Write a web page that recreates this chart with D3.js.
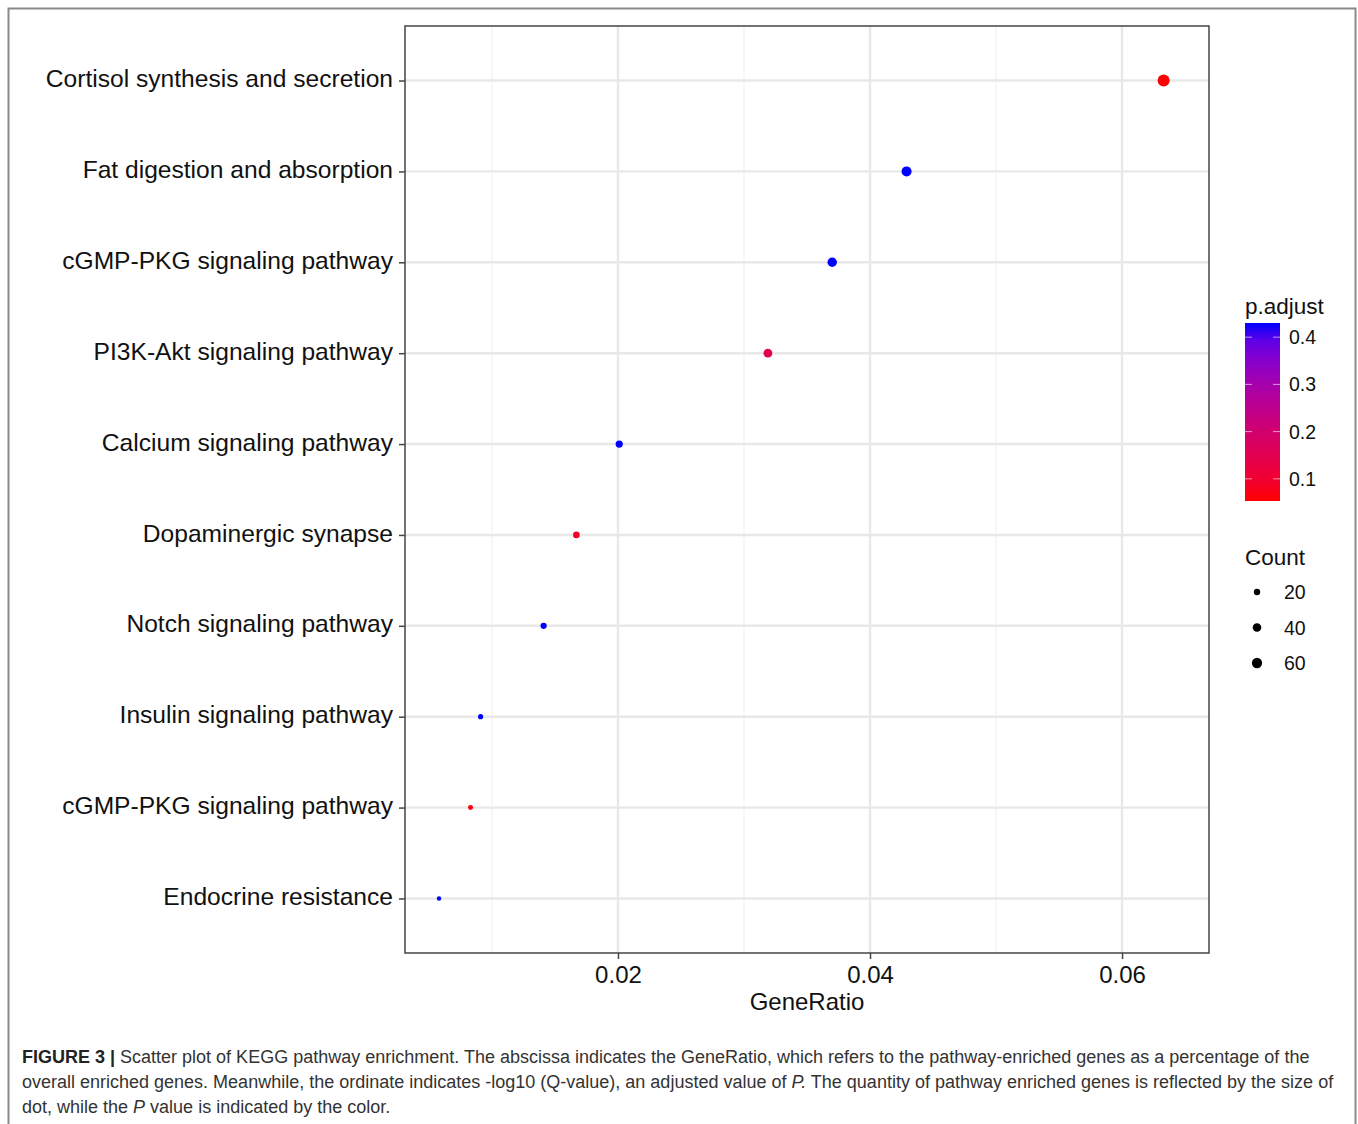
<!DOCTYPE html>
<html>
<head>
<meta charset="utf-8">
<script src="https://cdn.jsdelivr.net/npm/d3@7"></script>
<style>
  body { margin: 0; background: #fff; }
  text { font-family: "Liberation Sans", Arial, sans-serif; }
</style>
</head>
<body>
<div id="chart"></div>
<script>
// pathways, top row first
var pathways = ["Cortisol synthesis and secretion", "Fat digestion and absorption",
  "cGMP-PKG signaling pathway", "PI3K-Akt signaling pathway", "Calcium signaling pathway",
  "Dopaminergic synapse", "Notch signaling pathway", "Insulin signaling pathway",
  "cGMP-PKG signaling pathway", "Endocrine resistance"];
var geneRatio = [0.0633, 0.0429, 0.0370, 0.0319, 0.0201, 0.0167, 0.0141, 0.0091, 0.0083, 0.0058];
var counts = [84, 57, 49, 42, 27, 22, 19, 12, 11, 8];
var pAdjust = [0.053, 0.43, 0.43, 0.15, 0.43, 0.09, 0.43, 0.43, 0.06, 0.43];
var xTicks = [0.02, 0.04, 0.06];
var xMinor = [0.01, 0.03, 0.05];
var colorTicks = [0.1, 0.2, 0.3, 0.4];
var sizeBreaks = [20, 40, 60];
var caption = [
  [["FIGURE 3 | ", true], ["Scatter plot of KEGG pathway enrichment. The abscissa indicates the GeneRatio, which refers to the pathway-enriched genes as a percentage of the", false]],
  [["overall enriched genes. Meanwhile, the ordinate indicates -log10 (Q-value), an adjusted value of ", false], ["P.", false, true], [" The quantity of pathway enriched genes is reflected by the size of", false]],
  [["dot, while the ", false], ["P", false, true], [" value is indicated by the color.", false]]
];

var W = 1358, H = 1124;
var svg = d3.select("#chart").append("svg").attr("width", W).attr("height", H);

// figure frame
svg.append("rect").attr("x", 8.5).attr("y", 8.5).attr("width", 1347).attr("height", 1130)
  .attr("fill", "none").attr("stroke", "#8a8a8a").attr("stroke-width", 2);

var L = 405, T = 26, R = 1209, B = 953;

var x = d3.scaleLinear().domain([0.00310, 0.06690]).range([L, R]);
var idx = d3.range(pathways.length);
var y = d3.scalePoint().domain(idx).range([T, B]).padding(0.6);
var r = d3.scaleSqrt().domain([8, 84]).range([2.2, 6]);
var cDom = [0.053, 0.43];
var color = d3.scaleLinear().domain(cDom).range(["red", "blue"]).interpolate(d3.interpolateLab);

var g = svg.append("g");
g.append("rect").attr("x", L).attr("y", T).attr("width", R - L).attr("height", B - T).attr("fill", "#fff");

g.selectAll("line.minor").data(xMinor).enter().append("line")
  .attr("x1", x).attr("x2", x).attr("y1", T).attr("y2", B)
  .attr("stroke", "#f2f2f2").attr("stroke-width", 1.2);
g.selectAll("line.vmaj").data(xTicks).enter().append("line")
  .attr("x1", x).attr("x2", x).attr("y1", T).attr("y2", B)
  .attr("stroke", "#e8e8e8").attr("stroke-width", 2.4);
g.selectAll("line.hmaj").data(idx).enter().append("line")
  .attr("x1", L).attr("x2", R).attr("y1", y).attr("y2", y)
  .attr("stroke", "#e8e8e8").attr("stroke-width", 2.4);

g.selectAll("circle.dot").data(idx).enter().append("circle")
  .attr("cx", function(i) { return x(geneRatio[i]); })
  .attr("cy", y)
  .attr("r", function(i) { return r(counts[i]); })
  .attr("fill", function(i) { return color(pAdjust[i]); });

g.append("rect").attr("x", L).attr("y", T).attr("width", R - L).attr("height", B - T)
  .attr("fill", "none").attr("stroke", "#444").attr("stroke-width", 1.5);

// y axis
var yAxis = d3.axisLeft(y).tickSize(6).tickPadding(6).tickFormat(function(i) { return pathways[i]; });
var ya = svg.append("g").attr("transform", "translate(" + L + ",0)").call(yAxis);
ya.select(".domain").remove();
ya.selectAll(".tick line").attr("stroke", "#444").attr("stroke-width", 1.5);
ya.selectAll(".tick text").attr("font-size", 24.6).attr("fill", "#111").attr("dy", "0.25em")
  .attr("font-family", "Liberation Sans, Arial, sans-serif");

// x axis
var xAxis = d3.axisBottom(x).tickValues(xTicks).tickSize(6).tickPadding(7).tickFormat(d3.format(".2f"));
var xa = svg.append("g").attr("transform", "translate(0," + B + ")").call(xAxis);
xa.select(".domain").remove();
xa.selectAll(".tick line").attr("stroke", "#444").attr("stroke-width", 1.5);
xa.selectAll(".tick text").attr("font-size", 24).attr("fill", "#111")
  .attr("font-family", "Liberation Sans, Arial, sans-serif");

svg.append("text").attr("x", (L + R) / 2).attr("y", 1010).attr("text-anchor", "middle")
  .attr("font-size", 24).attr("fill", "#111").text("GeneRatio");

// colour legend
var barX = 1245, barW = 35, barTop = 323, barBot = 501;
var cy = d3.scaleLinear().domain(cDom).range([barBot, barTop]);
svg.append("text").attr("x", barX).attr("y", 314).attr("font-size", 22.5).attr("fill", "#111").text("p.adjust");
var defs = svg.append("defs");
var grad = defs.append("linearGradient").attr("id", "pgrad").attr("x1", 0).attr("x2", 0).attr("y1", 1).attr("y2", 0);
d3.range(0, 1.0001, 0.1).forEach(function(t) {
  grad.append("stop").attr("offset", t).attr("stop-color", color(cDom[0] + t * (cDom[1] - cDom[0])));
});
svg.append("rect").attr("x", barX).attr("y", barTop).attr("width", barW).attr("height", barBot - barTop)
  .attr("fill", "url(#pgrad)");
colorTicks.forEach(function(v) {
  var yy = cy(v);
  svg.append("line").attr("x1", barX).attr("x2", barX + 7).attr("y1", yy).attr("y2", yy)
    .attr("stroke", "#fff").attr("stroke-opacity", 0.6);
  svg.append("line").attr("x1", barX + barW - 7).attr("x2", barX + barW).attr("y1", yy).attr("y2", yy)
    .attr("stroke", "#fff").attr("stroke-opacity", 0.6);
  svg.append("text").attr("x", 1289).attr("y", yy + 7).attr("font-size", 19.5).attr("fill", "#111").text(v.toFixed(1));
});

// size legend
svg.append("text").attr("x", barX).attr("y", 565).attr("font-size", 22.5).attr("fill", "#111").text("Count");
var sy = d3.scalePoint().domain(sizeBreaks).range([592, 663]);
sizeBreaks.forEach(function(c) {
  svg.append("circle").attr("cx", 1257).attr("cy", sy(c)).attr("r", r(c)).attr("fill", "#000");
  svg.append("text").attr("x", 1284).attr("y", sy(c) + 7).attr("font-size", 19.5).attr("fill", "#111").text(c);
});

// caption, one text per line; widths left natural
caption.forEach(function(line, i) {
  var t = svg.append("text").attr("x", 22).attr("y", 1063 + i * 25).attr("font-size", 18).attr("fill", "#333");
  line.forEach(function(seg) {
    t.append("tspan").attr("font-weight", seg[1] ? "bold" : null)
      .attr("font-style", seg[2] ? "italic" : null)
      .attr("fill", seg[1] ? "#222" : null).text(seg[0]);
  });
});
</script>
</body>
</html>
